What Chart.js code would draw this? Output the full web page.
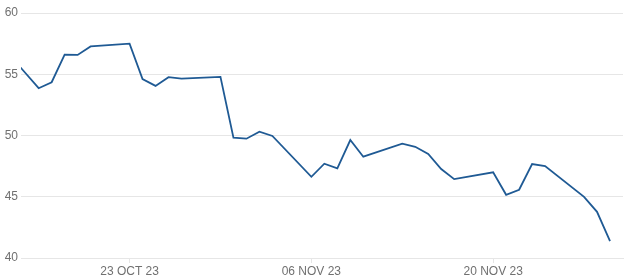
<!DOCTYPE html>
<html>
<head>
<meta charset="utf-8">
<script src="https://cdn.jsdelivr.net/npm/chart.js@4"></script>
<style>
html,body{margin:0;padding:0;background:#fff;}
#wrap{width:625px;height:280px;position:relative;}
</style>
</head>
<body>
<div id="wrap"><canvas id="c" width="625" height="280"></canvas></div>
<script>
// Trading dates (business days)
const dates = [
  '2023-10-13','2023-10-16','2023-10-17','2023-10-18','2023-10-19','2023-10-20',
  '2023-10-23','2023-10-24','2023-10-25','2023-10-26','2023-10-27',
  '2023-10-30','2023-10-31','2023-11-01','2023-11-02','2023-11-03',
  '2023-11-06','2023-11-07','2023-11-08','2023-11-09','2023-11-10',
  '2023-11-13','2023-11-14','2023-11-15','2023-11-16','2023-11-17',
  '2023-11-20','2023-11-21','2023-11-22','2023-11-23','2023-11-24',
  '2023-11-27','2023-11-28','2023-11-29'
];
const values = [
  57.5, 53.86, 54.35, 56.6, 56.58, 57.27,
  57.5, 54.6, 54.05, 54.76, 54.65,
  54.79, 49.82, 49.74, 50.31, 49.96,
  46.63, 47.7, 47.32, 49.63, 48.27,
  49.33, 49.08, 48.49, 47.26, 46.44,
  47.0, 45.16, 45.57, 47.67, 47.5,
  44.99, 43.77, 41.37
];
const xTickDates = ['2023-10-23','2023-11-06','2023-11-20'];
const xTickLabels = ['23 OCT 23','06 NOV 23','20 NOV 23'];
const yTicks = [40, 45, 50, 55, 60];
const xRangeDates = ['2023-10-14T15:21','2023-11-30'];

const DAY = 86400000;
const base = Date.parse('2023-10-23T00:00Z');
const toDay = s => (Date.parse(s + (s.length > 10 ? 'Z' : 'T00:00Z')) - base) / DAY;
const points = dates.map((d, i) => ({x: toDay(d), y: values[i]}));
const tickDays = xTickDates.map(toDay);

const gridColor = '#e6e6e6';
const textColor = '#707070';
const font = {family: '"Liberation Sans", Arial, sans-serif', size: 12};

new Chart(document.getElementById('c'), {
  type: 'line',
  data: {
    datasets: [{
      data: points,
      borderColor: '#1f5a94',
      borderWidth: 1.8,
      pointRadius: 0,
      tension: 0,
      fill: false
    }]
  },
  options: {
    responsive: false,
    animation: false,
    layout: {padding: {top: 13, right: 2, left: 0, bottom: 0}},
    plugins: {legend: {display: false}, tooltip: {enabled: false}},
    scales: {
      x: {
        type: 'linear',
        min: toDay(xRangeDates[0]),
        max: toDay(xRangeDates[1]),
        afterBuildTicks: ax => { ax.ticks = tickDays.map(v => ({value: v})); },
        afterFit: ax => { ax.height = 22; },
        ticks: {
          autoSkip: false,
          maxRotation: 0,
          padding: 1,
          color: textColor,
          font: font,
          callback: v => { const i = tickDays.indexOf(v); return i >= 0 ? xTickLabels[i] : ''; }
        },
        grid: {drawOnChartArea: false, drawTicks: true, tickLength: 5, color: gridColor},
        border: {display: true, color: gridColor}
      },
      y: {
        min: yTicks[0],
        max: yTicks[yTicks.length - 1],
        afterBuildTicks: ax => { ax.ticks = yTicks.map(v => ({value: v})); },
        afterFit: ax => { ax.width = 21; },
        ticks: {padding: 3, color: textColor, font: font},
        grid: {color: gridColor, drawTicks: false},
        border: {display: false}
      }
    }
  }
});
</script>
</body>
</html>
